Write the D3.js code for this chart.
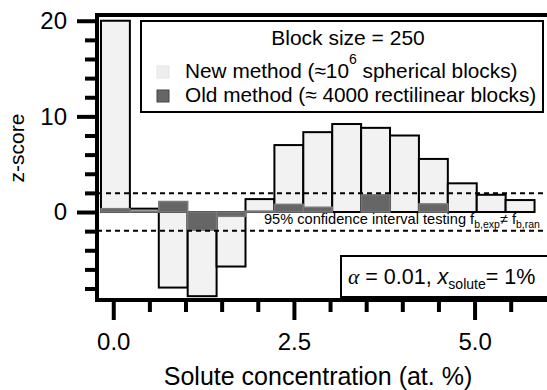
<!DOCTYPE html>
<html>
<head>
<meta charset="utf-8">
<script src="https://cdn.jsdelivr.net/npm/d3@7"></script>
<style>
body { margin: 0; background: #fff; }
text { font-family: "Liberation Sans", Arial, Helvetica, sans-serif; fill: #000; }
</style>
</head>
<body>
<div id="chart"></div>
<script>
'use strict';

// bin lower edges (at. %), bin width 0.4
var binStarts = [-0.17, 0.23, 0.63, 1.03, 1.43, 1.83, 2.23, 2.63, 3.03, 3.43, 3.83, 4.23, 4.63, 5.03, 5.43];
var binWidth = 0.4;
var newMethod = [20.0, 0.35, -7.9, -8.8, -5.7, 1.35, 7.0, 8.35, 9.2, 8.8, 8.0, 5.55, 3.0, 1.8, 1.25];
var oldMethod = [0.35, 0.1, 1.1, -1.9, -0.45, 0.1, 0.8, 0.5, 0, 1.8, 0, 0.85, 0, 0, 0];
var xMajor = [0, 2.5, 5];
var xMinor = [0.5, 1, 1.5, 2, 3, 3.5, 4, 4.5, 5.5];
var yMajor = [0, 10, 20];
var yMinor = [-8, -6, -4, -2, 2, 4, 6, 8, 12, 14, 16, 18];
var ciLimits = [-1.96, 1.96];

var width = 547, height = 390;
var plotLeft = 97, plotRight = 549, plotTop = 15, plotBottom = 300;

var svg = d3.select("#chart").append("svg")
	.attr("width", width)
	.attr("height", height);

var x = d3.scaleLinear().domain([-0.225, 6.03]).range([plotLeft, plotRight]);
var y = d3.scaleLinear().domain([-9.2, 20.6]).range([plotBottom, plotTop]);

var bins = binStarts.map(function(s, i){
	return {x0: s, x1: s + binWidth, nv: newMethod[i], ov: oldMethod[i]};
});

// new method bars
svg.selectAll(".newbar").data(bins).enter().append("rect")
	.attr("class", "newbar")
	.attr("x", function(d){ return x(d.x0); })
	.attr("width", function(d){ return x(d.x1) - x(d.x0); })
	.attr("y", function(d){ return y(Math.max(0, d.nv)); })
	.attr("height", function(d){ return Math.abs(y(d.nv) - y(0)); })
	.attr("fill", "#f2f2f2")
	.attr("stroke", "#000")
	.attr("stroke-width", 2);

// old method bars
svg.selectAll(".oldbar").data(bins.filter(function(d){ return d.ov !== 0; })).enter().append("rect")
	.attr("class", "oldbar")
	.attr("x", function(d){ return x(d.x0); })
	.attr("width", function(d){ return x(d.x1) - x(d.x0); })
	.attr("y", function(d){ return y(Math.max(0, d.ov)); })
	.attr("height", function(d){ return Math.abs(y(d.ov) - y(0)); })
	.attr("fill", "#666")
	.attr("stroke", "#7a7a7a")
	.attr("stroke-width", 1.5);

// confidence limits
svg.selectAll(".ci").data(ciLimits).enter().append("line")
	.attr("class", "ci")
	.attr("x1", plotLeft).attr("x2", plotRight)
	.attr("y1", function(d){ return y(d); })
	.attr("y2", function(d){ return y(d); })
	.attr("stroke", "#000")
	.attr("stroke-width", 2)
	.attr("stroke-dasharray", "5,4");

var ci = svg.append("text")
	.attr("x", 264).attr("y", 224)
	.style("font-size", "14.6px");
ci.append("tspan").text("95% confidence interval testing f");
ci.append("tspan").attr("dy", 4).style("font-size", "10.5px").text("b,exp");
ci.append("tspan").attr("dy", -4).text("\u2260 f");
ci.append("tspan").attr("dy", 4).style("font-size", "10.5px").text("b,ran");

// axes
function styleAxis(g){
	g.select(".domain").remove();
	g.selectAll(".tick line").attr("stroke", "#000").attr("stroke-width", 4);
	g.selectAll(".tick text").style("font-size", "24px").attr("font-family", null);
}

svg.append("g")
	.attr("transform", "translate(0," + plotBottom + ")")
	.call(d3.axisBottom(x).tickValues(xMajor).tickSize(20).tickPadding(13).tickFormat(d3.format(".1f")))
	.call(styleAxis);
svg.append("g")
	.attr("transform", "translate(0," + plotBottom + ")")
	.call(d3.axisBottom(x).tickValues(xMinor).tickSize(12).tickFormat(""))
	.call(styleAxis);
svg.append("g")
	.attr("transform", "translate(" + plotLeft + ",0)")
	.call(d3.axisLeft(y).tickValues(yMajor).tickSize(20).tickPadding(10).tickFormat(d3.format("d")))
	.call(styleAxis);
svg.append("g")
	.attr("transform", "translate(" + plotLeft + ",0)")
	.call(d3.axisLeft(y).tickValues(yMinor).tickSize(12).tickFormat(""))
	.call(styleAxis);

// frame
svg.append("rect")
	.attr("x", plotLeft).attr("y", plotTop)
	.attr("width", plotRight - plotLeft).attr("height", plotBottom - plotTop)
	.attr("fill", "none")
	.attr("stroke", "#000")
	.attr("stroke-width", 4);

// axis titles
svg.append("text")
	.attr("x", 318).attr("y", 385)
	.attr("text-anchor", "middle")
	.style("font-size", "25px")
	.text("Solute concentration (at. %)");
svg.append("text")
	.attr("transform", "translate(24,148) rotate(-90)")
	.attr("text-anchor", "middle")
	.style("font-size", "21px")
	.text("z-score");

// legend
var legend = svg.append("g");
legend.append("rect")
	.attr("x", 141).attr("y", 21).attr("width", 402).attr("height", 91)
	.attr("fill", "#fff").attr("stroke", "#000").attr("stroke-width", 2);
legend.append("text")
	.attr("x", 348).attr("y", 45)
	.attr("text-anchor", "middle")
	.style("font-size", "21px")
	.text("Block size = 250");
legend.append("rect")
	.attr("x", 157).attr("y", 66).attr("width", 12).attr("height", 12)
	.attr("fill", "#eee").attr("stroke", "#e4e4e4");
legend.append("rect")
	.attr("x", 157).attr("y", 90).attr("width", 12).attr("height", 12)
	.attr("fill", "#666").attr("stroke", "#444");
var l1 = legend.append("text").attr("x", 185).attr("y", 78).style("font-size", "20.8px");
l1.append("tspan").text("New method (\u224810");
l1.append("tspan").attr("dy", -14).style("font-size", "14px").text("6");
l1.append("tspan").attr("dy", 14).text(" spherical blocks)");
legend.append("text").attr("x", 185).attr("y", 102).style("font-size", "20.8px")
	.text("Old method (\u2248 4000 rectilinear blocks)");

// parameter box
svg.append("rect")
	.attr("x", 341).attr("y", 256).attr("width", 210).attr("height", 41)
	.attr("fill", "#fff").attr("stroke", "#000").attr("stroke-width", 2);
var p = svg.append("text").attr("x", 348).attr("y", 284).style("font-size", "21.5px");
p.append("tspan").style("font-style", "italic").style("font-family", "'Liberation Serif', serif").text("\u03b1");
p.append("tspan").text(" = 0.01, ");
p.append("tspan").style("font-style", "italic").text("x");
p.append("tspan").attr("dy", 5).style("font-size", "14px").text("solute");
p.append("tspan").attr("dy", -5).text("= 1%");
</script>
</body>
</html>
